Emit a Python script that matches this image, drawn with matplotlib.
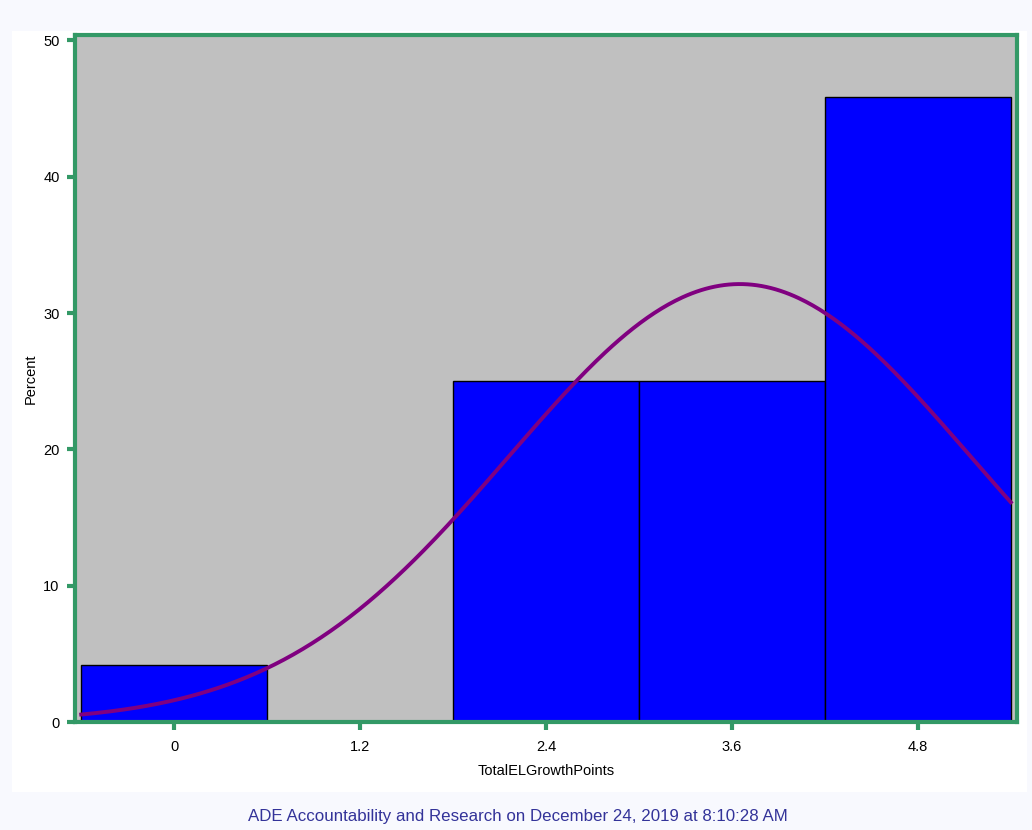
import numpy as np
import matplotlib
matplotlib.use("Agg")
import matplotlib.pyplot as plt
from matplotlib.patches import Rectangle

# histogram data (percent per bin, bins of width 1.2)
bin_mids = [0.0, 1.2, 2.4, 3.6, 4.8]
percents = [4.17, 0.0, 25.0, 25.0, 45.83]
bin_width = 1.2
xticks = [0, 1.2, 2.4, 3.6, 4.8]
xtick_labels = ["0", "1.2", "2.4", "3.6", "4.8"]
yticks = [0, 10, 20, 30, 40, 50]

# fitted normal curve parameters
mu = 3.65
sigma = 1.49

green = "#339966"
plt.rcParams['font.family'] = ['Liberation Sans', 'DejaVu Sans']

fig = plt.figure(figsize=(10.32, 8.30), dpi=100)
fig.patch.set_facecolor("#f8f9fe")
# white panel behind the graph
fig.patches.append(Rectangle((0.0116, 0.0458), 0.9835, 0.9169,
                             transform=fig.transFigure, facecolor="white",
                             edgecolor="none", zorder=-5))

ax = fig.add_axes([0.0727, 0.1301, 0.9128, 0.8277])
ax.set_facecolor("#c0c0c0")

edges = [m - bin_width / 2 for m in bin_mids]
ax.bar(edges, percents, width=bin_width, align="edge", color="#0000ff",
       edgecolor="black", linewidth=1, zorder=2)

xs = np.linspace(edges[0], edges[-1] + bin_width, 400)
ys = 100 * bin_width / (sigma * np.sqrt(2 * np.pi)) * np.exp(-0.5 * ((xs - mu) / sigma) ** 2)
ax.plot(xs, ys, color="#800080", linewidth=2.8, zorder=3)

ax.set_xlim(-0.64, 5.44)
ax.set_ylim(0, 50.4)
ax.set_xticks(xticks)
ax.set_xticklabels(xtick_labels)
ax.set_yticks(yticks)

for s in ax.spines.values():
    s.set_color(green)
    s.set_linewidth(3)
ax.tick_params(axis="both", colors=green, width=3, length=6, labelsize=10.5,
               labelcolor="black", pad=7)
ax.tick_params(axis="y", pad=5)

ax.set_xlabel("TotalELGrowthPoints", fontsize=10.5, labelpad=7)
ax.set_ylabel("Percent", fontsize=10.5, labelpad=4)

fig.text(0.502, 0.0165, "ADE Accountability and Research on December 24, 2019 at 8:10:28 AM",
         ha="center", va="center", fontsize=12.2, color="#333399")

fig.savefig("out.png", dpi=100, facecolor=fig.get_facecolor())
